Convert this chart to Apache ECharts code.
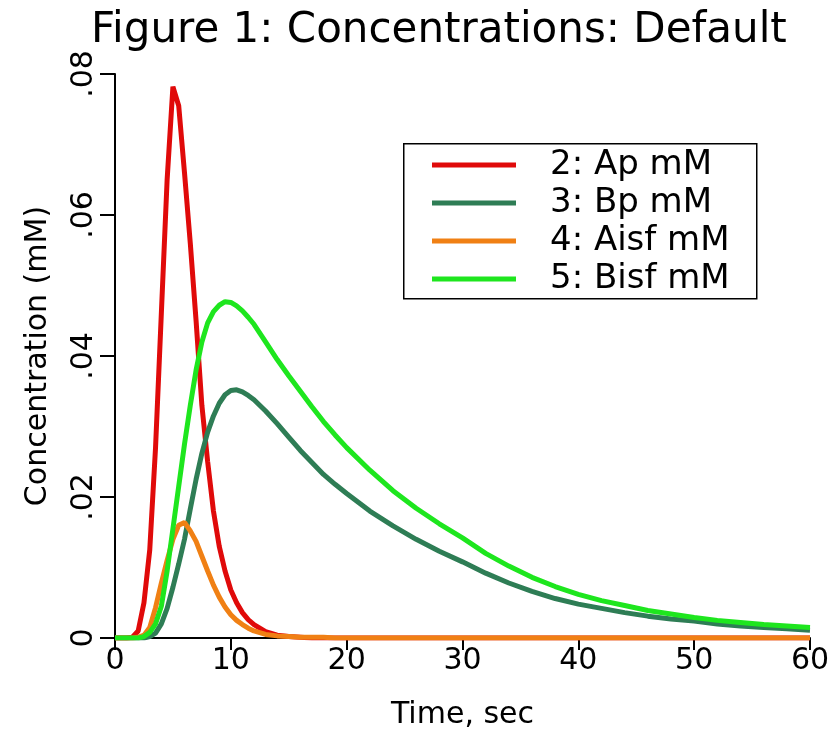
<!DOCTYPE html>
<html>
<head>
<meta charset="utf-8">
<script src="https://cdn.jsdelivr.net/npm/echarts@6/dist/echarts.min.js"></script>
<style>
html,body{margin:0;padding:0;background:#fff;}
#chart{width:837px;height:749px;}
</style>
</head>
<body>
<div id="chart"></div>
<script>
// ---- data ----
var times = [0,0.5,1,1.5,2,2.5,3,3.5,4,4.5,5,5.5,6,6.5,7,7.5,8,8.5,9,9.5,10,10.5,11,11.5,12,13,14,15,16,17,18,19,20,22,24,26,28,30,32,34,36,38,40,42,44,46,48,50,52,54,56,58,60];

var apValues = [0,0,0,0.0001,0.001,0.005,0.0125,0.027,0.046,0.065,0.0782,0.0755,0.066,0.056,0.045,0.033,0.025,0.018,0.013,0.0095,0.0068,0.005,0.0036,0.0026,0.0019,0.0009,0.0004,0.0002,0.0001,0,0,0,0,0,0,0,0,0,0,0,0,0,0,0,0,0,0,0,0,0,0,0,0];

var bpValues = [0,0,0,0,0,0,0.0002,0.0007,0.002,0.0042,0.0072,0.0105,0.014,0.0183,0.0225,0.0262,0.0292,0.0315,0.0333,0.0345,0.0351,0.0352,0.0349,0.0344,0.0338,0.0322,0.0304,0.0285,0.0266,0.0249,0.0232,0.0218,0.0205,0.018,0.0159,0.014,0.0123,0.0108,0.0092,0.0078,0.0066,0.0056,0.0048,0.0042,0.0036,0.0031,0.0027,0.0024,0.002,0.0017,0.0015,0.0013,0.0011];

var aisfValues = [0,0,0,0,0.0001,0.0004,0.0015,0.0043,0.0078,0.011,0.014,0.016,0.0164,0.0152,0.0137,0.0116,0.0095,0.0075,0.0058,0.0044,0.0033,0.0025,0.0019,0.0014,0.001,0.0005,0.0003,0.0002,0.0001,0.0001,0.0001,0,0,0,0,0,0,0,0,0,0,0,0,0,0,0,0,0,0,0,0,0,0];

var bisfValues = [0,0,0,0,0,0.0002,0.0008,0.002,0.0045,0.0095,0.0155,0.0215,0.0275,0.033,0.038,0.042,0.0447,0.0463,0.0472,0.0477,0.0476,0.0471,0.0464,0.0455,0.0445,0.042,0.0395,0.0372,0.035,0.0328,0.0307,0.0288,0.027,0.0238,0.0209,0.0184,0.0162,0.0142,0.012,0.0102,0.0086,0.0073,0.0062,0.0053,0.0046,0.0039,0.0034,0.0029,0.0025,0.0022,0.0019,0.0017,0.0015];

var seriesNames = ['2: Ap mM','3: Bp mM','4: Aisf mM','5: Bisf mM'];
var seriesColors = ['#e00a0a','#2e7d55','#f08014','#1ee61e'];
var yTickLabels = ['0','.02','.04','.06','.08'];
var xTickLabels = ['0','10','20','30','40','50','60'];

function pairs(vals){ return times.map(function(t,i){ return [t, vals[i]]; }); }
var allValues = [apValues, bpValues, aisfValues, bisfValues];

var chart = echarts.init(document.getElementById('chart'), null, {renderer:'canvas'});
var FONT = 'DejaVu Sans';
chart.setOption({
  animation: false,
  backgroundColor: '#fff',
  title: {
    text: 'Figure 1: Concentrations: Default',
    left: 86, top: 5,
    textStyle: {fontFamily: FONT, fontSize: 42, fontWeight: 'normal', color: '#000'}
  },
  grid: {left: 115, right: 27, top: 74, bottom: 111, containLabel: false},
  graphic: [{
    type: 'rect', left: 403, top: 143, z: 5,
    shape: {width: 353, height: 155},
    style: {fill: '#fff', stroke: '#000', lineWidth: 1.5}
  }],
  legend: {
    orient: 'vertical', left: 432, top: 146, padding: 0, itemGap: 0, z: 10,
    itemWidth: 84, itemHeight: 5, icon: 'rect',
    textStyle: {fontFamily: FONT, fontSize: 34, lineHeight: 38, color: '#000', padding: [0,0,0,29]},
    data: seriesNames
  },
  xAxis: {
    type: 'value', min: 0, max: 60, interval: 10,
    name: 'Time, sec', nameLocation: 'middle', nameGap: 62,
    nameTextStyle: {fontFamily: FONT, fontSize: 30, color: '#000'},
    axisLine: {lineStyle: {color: '#000', width: 2}},
    axisTick: {length: 12, lineStyle: {color: '#000', width: 2}},
    axisLabel: {fontFamily: FONT, fontSize: 30, color: '#000', margin: 8,
      formatter: function(v){ return xTickLabels[Math.round(v/10)]; }},
    splitLine: {show: false}
  },
  yAxis: {
    type: 'value', min: 0, max: 0.08, interval: 0.02,
    name: 'Concentration (mM)', nameLocation: 'middle', nameGap: 62,
    nameTextStyle: {fontFamily: FONT, fontSize: 30, color: '#000'},
    axisLine: {show: true, lineStyle: {color: '#000', width: 2}},
    axisTick: {show: true, length: 15, lineStyle: {color: '#000', width: 2}},
    axisLabel: {fontFamily: FONT, fontSize: 30, color: '#000', margin: 16, rotate: 90,
      formatter: function(v){ return yTickLabels[Math.round(v/0.02)]; }},
    splitLine: {show: false}
  },
  series: seriesNames.map(function(n, i){
    return {
      name: n, type: 'line', data: pairs(allValues[i]),
      showSymbol: false, symbol: 'none', color: seriesColors[i],
      lineStyle: {width: 5, color: seriesColors[i]},
      z: 2 + i
    };
  })
});
</script>
</body>
</html>
